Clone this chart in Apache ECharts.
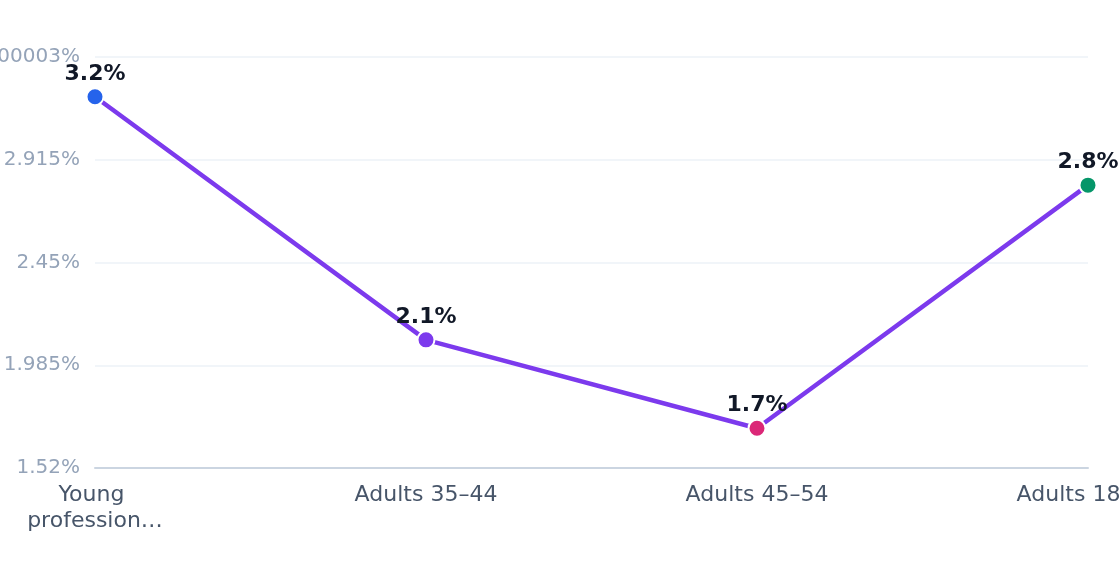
<!DOCTYPE html>
<html>
<head>
<meta charset="utf-8">
<script src="https://cdn.jsdelivr.net/npm/echarts@6/dist/echarts.min.js"></script>
<style>
html, body { margin: 0; padding: 0; background: #fff; }
#main { width: 1120px; height: 572px; }
</style>
</head>
<body>
<div id="main"></div>
<script>
var categories = ['Young professionals', 'Adults 35–44', 'Adults 45–54', 'Adults 18–24'];
var values = [3.2, 2.1, 1.7, 2.8];
var pointColors = ['#2563eb', '#7c3aed', '#db2777', '#059669'];
var yMin = 1.52;
var yStep = 0.465;
var yMax = 3.38;
var yTickLabels = ['1.52%', '1.985%', '2.45%', '2.915%', '3.3800000000000003%'];

var font = 'DejaVu Sans';
var chart = echarts.init(document.getElementById('main'));

var seriesData = values.map(function (v, i) {
	return { value: v, itemStyle: { color: pointColors[i] } };
});

var option = {
	animation: false,
	textStyle: { fontFamily: font },
	grid: { left: 95, right: 32, top: 57, bottom: 104, outerBoundsMode: 'none', containLabel: false },
	xAxis: {
		type: 'category',
		data: categories,
		boundaryGap: false,
		axisLine: { lineStyle: { color: '#cbd5e1', width: 2 } },
		axisTick: { show: false },
		axisLabel: {
			color: '#475569',
			fontFamily: font,
			fontSize: 22,
			margin: 14,
			lineHeight: 26,
			width: 160,
			overflow: 'break',
			interval: 0,
			formatter: function (v) {
				return v.length > 16 ? v.slice(0, 16) + '…' : v;
			}
		}
	},
	yAxis: {
		type: 'value',
		min: yMin,
		max: yMax,
		interval: yStep,
		axisLine: { show: false },
		axisTick: { show: false },
		splitLine: { lineStyle: { color: '#f1f5f9', width: 2 } },
		axisLabel: {
			color: '#94a3b8',
			fontFamily: font,
			fontSize: 20,
			margin: 15,
			padding: [3, 0, 0, 0],
			formatter: function (v, i) { return yTickLabels[i] || (v + '%'); }
		}
	},
	series: [{
		type: 'line',
		data: seriesData,
		symbol: 'circle',
		symbolSize: 17,
		lineStyle: { color: '#7c3aed', width: 4.5 },
		itemStyle: { borderColor: '#fff', borderWidth: 2 },
		label: {
			show: true,
			position: 'top',
			distance: 2,
			color: '#111827',
			fontFamily: font,
			fontSize: 22,
			fontWeight: 'bold',
			formatter: function (p) { return p.value + '%'; }
		}
	}]
};

chart.setOption(option);
</script>
</body>
</html>
